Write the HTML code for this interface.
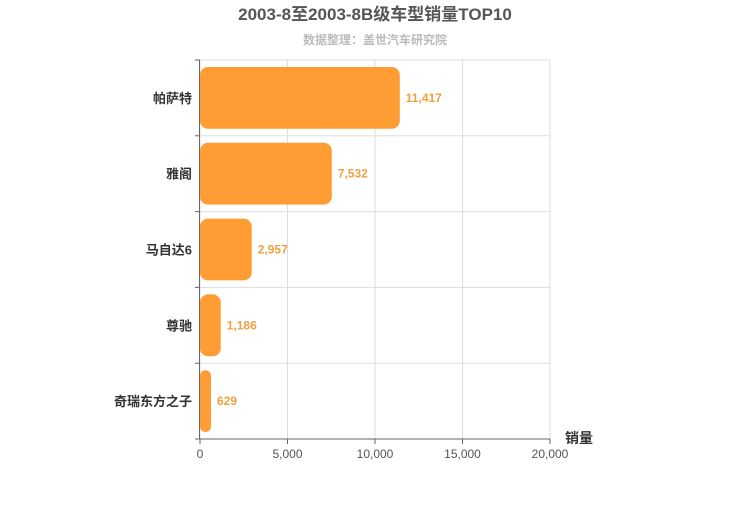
<!DOCTYPE html>
<html><head><meta charset="utf-8"><style>
body{margin:0;background:#fff;}
svg text{font-family:"Liberation Sans","Noto Sans CJK SC",sans-serif;}
</style></head><body>
<svg id="chart" width="750" height="500" xmlns="http://www.w3.org/2000/svg">
<text x="375" y="20" text-anchor="middle" font-size="17" font-weight="bold" fill="#555">2003-8至2003-8B级车型销量TOP10</text>
<text x="375" y="44" text-anchor="middle" font-size="12" font-weight="bold" fill="#bbb">数据整理：盖世汽车研究院</text>
<g id="grid"></g><g id="bars"></g><g id="axes"></g>
<text x="565" y="443" font-size="14" font-weight="bold" fill="#333">销量</text>
</svg>
<script>
const categories=["帕萨特","雅阁","马自达6","尊驰","奇瑞东方之子"];
const values=[11417,7532,2957,1186,629];
const xTicks=[0,5000,10000,15000,20000];
const xMax=20000;
const NS="http://www.w3.org/2000/svg";
const L=200,R=550,T=60,B=439;
const band=(B-T)/categories.length;
const x=v=>L+(v/xMax)*(R-L);
const yb=i=>T+i*band;
function mk(tag,attrs,parent){const e=document.createElementNS(NS,tag);for(const k in attrs)e.setAttribute(k,attrs[k]);document.getElementById(parent).appendChild(e);return e;}
xTicks.forEach(t=>{
 const g=mk('line',{x1:x(t),x2:x(t),y1:T,y2:B,stroke:'#ddd'},'grid');
 
 
 const tl=mk('line',{x1:x(t),x2:x(t),y1:B,y2:B+5,stroke:'#666'},'axes');
 
 
 const lb=mk('text',{x:x(t),y:B+19,'text-anchor':'middle','font-size':12,fill:'#555'},'axes');
 lb.textContent=t.toLocaleString('en-US');
 
 
});
for(let i=0;i<=categories.length;i++){
 const g=mk('line',{x1:L,x2:R,y1:yb(i),y2:yb(i),stroke:'#ddd'},'grid');
 
 
 const tk=mk('line',{x1:L-5,x2:L,y1:yb(i),y2:yb(i),stroke:'#666'},'axes');
 
 
}
const ya=mk('line',{x1:L-0.5,x2:L-0.5,y1:T,y2:B,stroke:'#666'},'axes');


const xa=mk('line',{x1:L,x2:R,y1:B,y2:B,stroke:'#666'},'axes');


categories.forEach((c,i)=>{
 const y0=yb(i)+7,h=band-14,w=Math.max(x(values[i])-L,1);
 const r=mk('rect',{x:L,y:y0,width:w,height:h,rx:Math.min(8,w/2),fill:'#ff9c33'},'bars');
 
 
 const v=mk('text',{x:x(values[i])+6,y:y0+h/2+4,'font-size':12,'font-weight':'bold',fill:'#f0a040'},'bars');
 v.textContent=values[i].toLocaleString('en-US');
 
 
 const cl=mk('text',{x:L-8,y:y0+h/2+5,'text-anchor':'end','font-size':13,'font-weight':'bold',fill:'#333'},'axes');
 cl.textContent=c;
 
 
});
</script>
</body></html>
